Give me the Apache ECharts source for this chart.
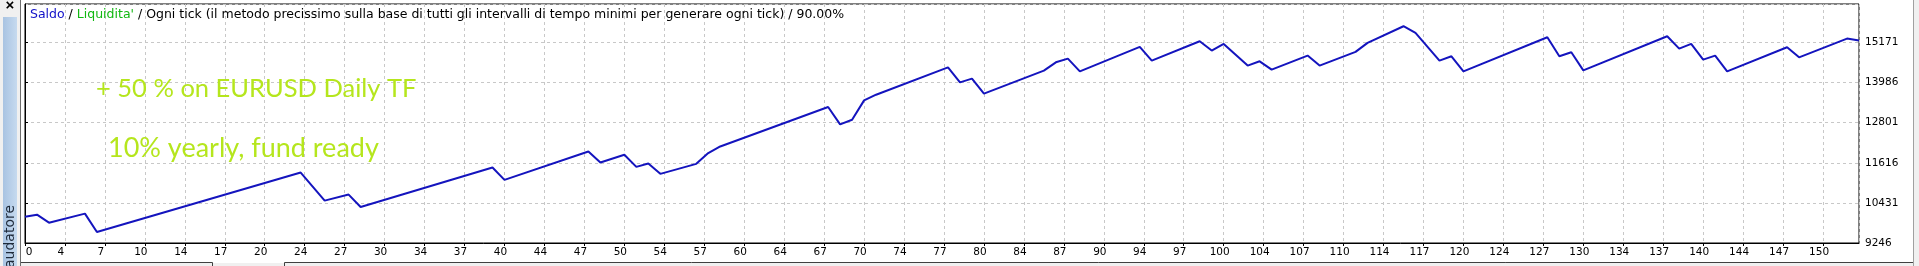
<!DOCTYPE html>
<html><head><meta charset="utf-8">
<script src="https://cdn.jsdelivr.net/npm/echarts@6/dist/echarts.min.js"></script>
<style>html,body{margin:0;padding:0;background:#fff;overflow:hidden}#c{width:1919px;height:266px}</style>
</head><body><div id="c"></div>
<script>
// trade number (x) and balance (y)
const tradeIdx = [0,1,2,5,6,23,25,27,28,39,40,47,48,50,51,52,53,56,57,58,67,68,69,70,71,77,78,79,80,85,86,87,88,93,94,98,99,100,102,103,104,107,108,111,112,115,116,118,119,120,127,128,129,130,137,138,139,140,141,142,147,148,152,153];
const balance  = [10025,10084,9847,10114,9572,11329,10499,10677,10312,11477,11112,11951,11625,11853,11497,11595,11290,11586,11903,12099,13266,12751,12890,13462,13630,14439,13995,14104,13660,14341,14587,14697,14321,15044,14638,15210,14934,15132,14490,14617,14371,14786,14490,14895,15162,15654,15458,14638,14765,14321,15328,14765,14884,14350,15358,14993,15132,14667,14786,14321,15032,14735,15289,15230];
const xTickLabels = [0,4,7,10,14,17,20,24,27,30,34,37,40,44,47,50,54,57,60,64,67,70,74,77,80,84,87,90,94,97,100,104,107,110,114,117,120,124,127,130,134,137,140,144,147,150];
const yTickLabels = [9246,10431,11616,12801,13986,15171];
const headerText = ["Saldo", "Liquidita'", "Ogni tick (il metodo precissimo sulla base di tutti gli intervalli di tempo minimi per generare ogni tick)", "90.00%"];
const noteLines = ["+ 50 % on EURUSD Daily TF", "10% yearly, fund ready"];

const chart = echarts.init(document.getElementById('c'), null, {renderer: 'canvas'});
const yStep = yTickLabels[1] - yTickLabels[0];
const labelFont = 'DejaVu Sans';
chart.setOption({
  animation: false,
  backgroundColor: '#ffffff',
  title: {
    left: 30, top: 8, padding: 0,
    text: '{b|' + headerText[0] + '} / {g|' + headerText[1] + '} / ' + headerText[2] + ' / ' + headerText[3],
    textStyle: {fontFamily: labelFont, fontSize: 12.5, fontWeight: 'normal', color: '#000',
      rich: {b: {color: '#1010c8', fontFamily: labelFont, fontSize: 12.5}, g: {color: '#12b812', fontFamily: labelFont, fontSize: 12.5}}}
  },
  grid: {left: 25, right: 60, top: 4, bottom: 23, show: true, borderColor: '#000', borderWidth: 1, backgroundColor: 'transparent'},
  xAxis: {
    type: 'value', min: 0, max: 153, interval: 10/3,
    axisLine: {show: true, onZero: false, lineStyle: {color: '#000', width: 1}},
    axisTick: {show: true, inside: false, length: 3, lineStyle: {color: '#000'}},
    splitLine: {show: true, lineStyle: {color: '#c8c8c8', type: [3, 3], width: 1}},
    axisLabel: {
      showMaxLabel: false, margin: 4, color: '#000', fontFamily: labelFont, fontSize: 10.5,
      align: 'center', padding: [0, 8, 0, 0],
      formatter: (v, i) => i === 0 ? '{z|' + xTickLabels[0] + '}' : (xTickLabels[i] !== undefined ? String(xTickLabels[i]) : ''),
      rich: {z: {padding: [0, 0, 0, 16], fontFamily: labelFont, fontSize: 10.5, color: '#000'}}
    }
  },
  yAxis: {
    type: 'value', position: 'right', min: yTickLabels[0], max: 16311, interval: yStep,
    axisLine: {show: true, lineStyle: {color: '#000', width: 1}},
    axisTick: {show: true, inside: false, length: 3, lineStyle: {color: '#000'}},
    splitLine: {show: true, lineStyle: {color: '#c8c8c8', type: [3, 3], width: 1}},
    axisLabel: {showMaxLabel: false, margin: 6, color: '#000', fontFamily: labelFont, fontSize: 10.5,
      formatter: (v, i) => yTickLabels[i] !== undefined ? String(yTickLabels[i]) : ''}
  },
  series: [{
    type: 'line', data: tradeIdx.map((x, i) => [x, balance[i]]),
    showSymbol: false, symbol: 'none', lineStyle: {color: '#1414be', width: 2}, z: 5
  }],
  graphic: [
    {type: 'rect', shape: {x: 0, y: 0, width: 21, height: 266}, style: {fill: '#f0f0f0'}, z: 1},
    {type: 'rect', shape: {x: 3, y: 17, width: 14, height: 249},
      style: {fill: new echarts.graphic.LinearGradient(0, 0, 1, 0, [{offset: 0, color: '#a8c3e2'}, {offset: 1, color: '#c6daef'}])}, z: 1},
    {type: 'text', x: 10, y: 6, style: {text: '×', font: 'bold 15px "Liberation Sans"', fill: '#000', align: 'center', verticalAlign: 'middle'}, z: 2},
    {type: 'text', x: 10, y: 268, rotation: Math.PI / 2, style: {text: 'audatore', font: '14px "DejaVu Sans"', fill: '#1e2a3a', align: 'left', verticalAlign: 'middle'}, z: 2},
    {type: 'line', shape: {x1: 20.5, y1: 0, x2: 20.5, y2: 266}, style: {stroke: '#6d6d6d', lineWidth: 1}, z: 2},
    {type: 'rect', shape: {x: 1913, y: 0, width: 6, height: 266}, style: {fill: '#f0f0f0'}, z: 1},
    {type: 'line', shape: {x1: 1913.5, y1: 0, x2: 1913.5, y2: 266}, style: {stroke: '#a0a0a0', lineWidth: 1}, z: 2},
    {type: 'rect', shape: {x: 21, y: 263, width: 1892, height: 3}, style: {fill: '#f0f0f0'}, z: 1},
    {type: 'polyline', shape: {points: [[21, 262.5], [212.5, 262.5], [212.5, 266]]}, style: {stroke: '#404040', lineWidth: 1, fill: null}, z: 2},
    {type: 'polyline', shape: {points: [[284.5, 266], [284.5, 262.5], [1913, 262.5]]}, style: {stroke: '#404040', lineWidth: 1, fill: null}, z: 2},
    {type: 'text', x: 96, y: 89, style: {text: noteLines[0], font: '25.5px Lato', fill: '#b5e61d', align: 'left', verticalAlign: 'middle'}, z: 3},
    {type: 'text', x: 108, y: 148, style: {text: noteLines[1], font: '27px Lato', fill: '#b5e61d', align: 'left', verticalAlign: 'middle'}, z: 3}
  ]
});
</script></body></html>
